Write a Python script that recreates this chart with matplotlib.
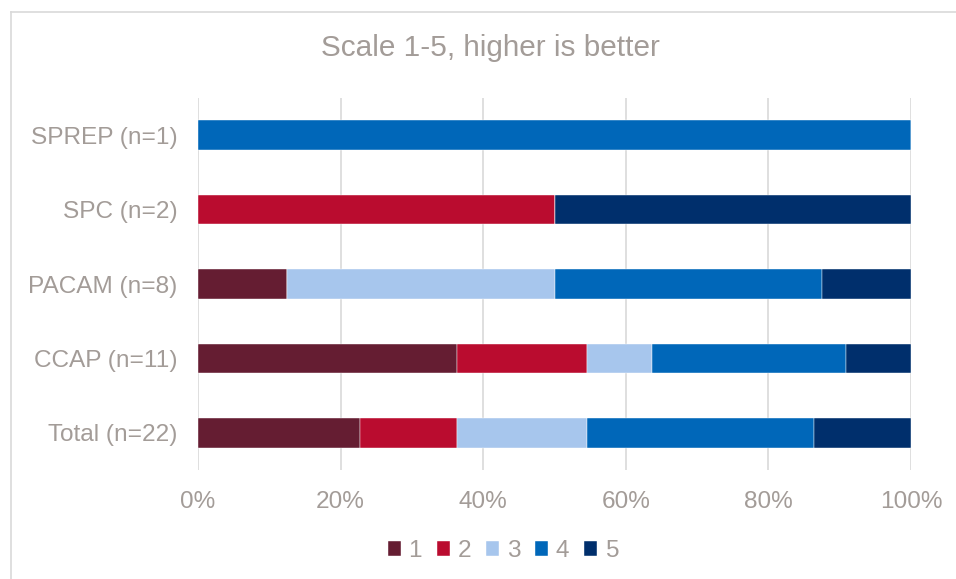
import numpy as np
import matplotlib.pyplot as plt
from matplotlib.lines import Line2D

plt.rcParams['font.family'] = ['Liberation Sans', 'DejaVu Sans']

# Data: response counts per score (1-5), per organisation
categories = ['Total (n=22)', 'CCAP (n=11)', 'PACAM (n=8)', 'SPC (n=2)', 'SPREP (n=1)']
scores = ['1', '2', '3', '4', '5']
counts_1 = [5, 4, 1, 0, 0]
counts_2 = [3, 2, 0, 1, 0]
counts_3 = [4, 1, 3, 0, 0]
counts_4 = [7, 3, 3, 0, 1]
counts_5 = [3, 1, 1, 1, 0]
colors = ['#651D32', '#BA0C2F', '#A7C6ED', '#0067B9', '#002F6C']
text_color = '#A39C98'

counts = np.array([counts_1, counts_2, counts_3, counts_4, counts_5], dtype=float)
shares = counts / counts.sum(axis=0)

fig = plt.figure(figsize=(9.56, 5.79), dpi=100)
ax = fig.add_axes([198 / 956, 1 - 470 / 579, 713 / 956, 372 / 579])

y = np.arange(len(categories))
left = np.zeros(len(categories))
for i, s in enumerate(scores):
    ax.barh(y, shares[i], left=left, height=0.40, color=colors[i], label=s,
            edgecolor='white', linewidth=0.3)
    left += shares[i]

ax.set_xlim(0, 1)
ax.set_ylim(-0.5, len(categories) - 0.5)
ax.set_xticks(np.linspace(0, 1, 6))
ax.set_xticklabels([f'{int(v * 100)}%' for v in np.linspace(0, 1, 6)])
ax.set_yticks(y)
ax.set_yticklabels(categories)
ax.tick_params(axis='both', length=0, labelsize=17.6, labelcolor=text_color)
ax.tick_params(axis='x', pad=15)
ax.tick_params(axis='y', pad=15)
ax.xaxis.grid(True, color='#D9D9D9', linewidth=1.2)
ax.set_axisbelow(True)
for sp in ax.spines.values():
    sp.set_visible(False)

fig.text(490 / 956, 1 - 48 / 579, 'Scale 1-5, higher is better', ha='center', va='center',
         fontsize=21.4, color=text_color)

handles, labels = ax.get_legend_handles_labels()
leg = fig.legend(handles, labels, loc='center', bbox_to_anchor=(503 / 956, 1 - 551 / 579),
                 ncol=5, frameon=False, fontsize=17.6, handlelength=0.55, handleheight=0.55,
                 handletextpad=0.3, columnspacing=0.6, borderpad=0)
for t in leg.get_texts():
    t.set_color(text_color)

# chart-area border (top and left edges visible in the crop)
fig.add_artist(Line2D([11 / 956, 1], [1 - 12 / 579, 1 - 12 / 579], color='#D9D9D9', linewidth=1.2))
fig.add_artist(Line2D([11 / 956, 11 / 956], [0, 1 - 12 / 579], color='#D9D9D9', linewidth=1.2))

fig.savefig('out.png', dpi=100)
